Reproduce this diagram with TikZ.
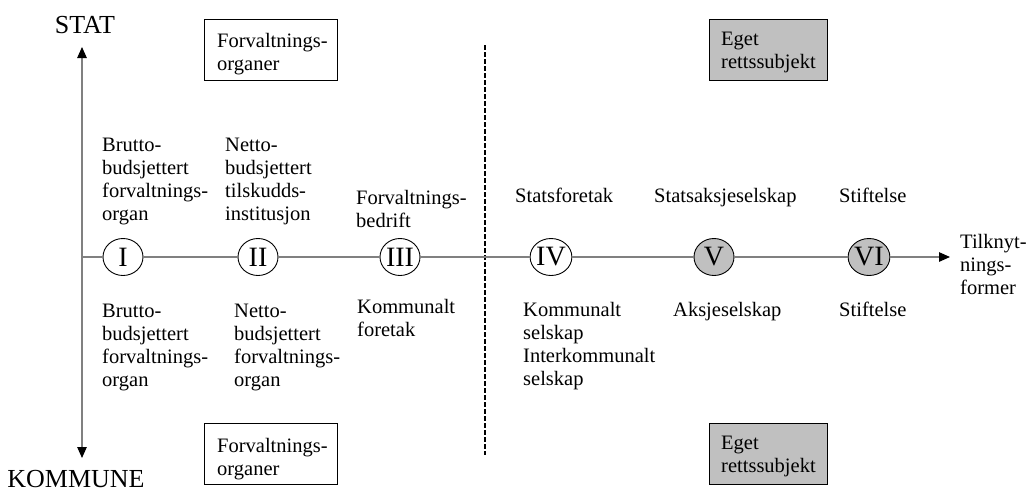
\documentclass[tikz,border=0pt]{standalone}
\usepackage{fontspec}
\setmainfont{Liberation Serif}
\usetikzlibrary{shapes.geometric,arrows.meta}
\newcommand\bodyfont{\fontsize{20.5}{23}\selectfont}
\newcommand\headfont{\fontsize{26}{30}\selectfont}
\newcommand\numfont{\fontsize{28}{30}\selectfont}
\newcommand\ml[1]{\begin{tabular}[t]{@{}l@{}}#1\end{tabular}}
\definecolor{axisgray}{HTML}{808080}
\definecolor{boxgray}{HTML}{C0C0C0}
\tikzset{
  lbl/.style={anchor=base west, inner sep=0pt, font=\bodyfont},
  head/.style={anchor=base, inner sep=0pt, font=\headfont},
  circ/.style={ellipse, draw=black, line width=0.9pt, minimum width=40pt, minimum height=37pt, inner sep=0pt, font=\numfont, fill=white},
  gcirc/.style={circ, fill=boxgray},
  box/.style={rectangle, draw=black, line width=1pt, minimum width=133pt, minimum height=61pt, inner sep=0pt},
  gbox/.style={box, fill=boxgray, minimum width=118pt},
  axis/.style={draw=axisgray, line width=1.2pt},
  tip/.style={-{Triangle[length=11pt,width=9.5pt,color=black,fill=black]}},
  dtip/.style={{Triangle[length=11pt,width=9.5pt,color=black,fill=black]}-{Triangle[length=11pt,width=9.5pt,color=black,fill=black]}},
  divider/.style={draw=black, line width=1.2pt, dash pattern=on 5pt off 2pt}
}
\begin{document}
\begin{tikzpicture}[x=1pt,y=-1pt]
\useasboundingbox (0,0) rectangle (1029,491);
% vertical axis
\coordinate (top) at (82,47);
\coordinate (bot) at (82,458);
\coordinate (o) at (82,257);
\coordinate (xend) at (950,257);
\draw[axis, dtip] (top) -- (bot);
\node[head] (stat) at (85,33) {STAT};
\node[head] (kom) at (76,487) {KOMMUNE};
% divider
\coordinate (dtop) at (485,45);
\coordinate (dbot) at (485,455);
\draw[divider] (dtop) -- (dbot);
% circles
\node[circ] (c1) at (123,257) {I};
\node[circ] (c2) at (258,257) {II};
\node[circ] (c3) at (400,257) {III};
\node[circ] (c4) at (551,257) {IV};
\node[gcirc] (c5) at (714,257) {V};
\node[gcirc] (c6) at (869,257) {VI};
\draw[axis, tip] (o) -- (c1) -- (c2) -- (c3) -- (c4) -- (c5) -- (c6) -- (xend);
\node[lbl] (tilk) at (960,248) {\ml{Tilknyt-\\nings-\\former}};
% boxes
\node[box] (b1) at (270.5,49.5) {};
\node[lbl] (b1t) at (217,47) {\ml{Forvaltnings-\\organer}};
\node[gbox] (b2) at (768,49.5) {};
\node[lbl] (b2t) at (721,45) {\ml{Eget\\rettssubjekt}};
\node[box] (b3) at (270.5,453.5) {};
\node[lbl] (b3t) at (217,452) {\ml{Forvaltnings-\\organer}};
\node[gbox] (b4) at (768,453.5) {};
\node[lbl] (b4t) at (721,449) {\ml{Eget\\rettssubjekt}};
% top labels
\node[lbl] (t1) at (102,151) {\ml{Brutto-\\budsjettert\\forvaltnings-\\organ}};
\node[lbl] (t2) at (225,151) {\ml{Netto-\\budsjettert\\tilskudds-\\institusjon}};
\node[lbl] (t3) at (356,204) {\ml{Forvaltnings-\\bedrift}};
\node[lbl] (t4) at (515,202) {Statsforetak};
\node[lbl] (t5) at (654,202) {Statsaksjeselskap};
\node[lbl] (t6) at (839,202) {Stiftelse};
% bottom labels
\node[lbl] (u1) at (102,317) {\ml{Brutto-\\budsjettert\\forvaltnings-\\organ}};
\node[lbl] (u2) at (234,317) {\ml{Netto-\\budsjettert\\forvaltnings-\\organ}};
\node[lbl] (u3) at (357,313) {\ml{Kommunalt\\foretak}};
\node[lbl] (u4) at (523,316) {\ml{Kommunalt\\selskap\\Interkommunalt\\selskap}};
\node[lbl] (u5) at (673,316) {Aksjeselskap};
\node[lbl] (u6) at (839,316) {Stiftelse};
\end{tikzpicture}
\end{document}
